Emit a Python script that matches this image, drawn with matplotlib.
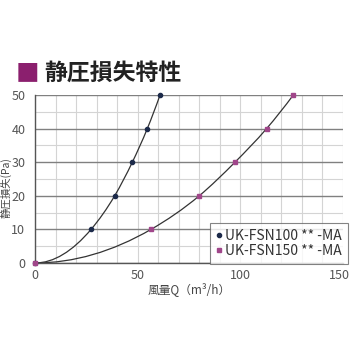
import matplotlib
matplotlib.use("Agg")
import matplotlib.pyplot as plt
import matplotlib.transforms as mtransforms
from matplotlib.path import Path
from matplotlib.patches import PathPatch

plt.rcParams['font.family'] = ['Noto Sans CJK JP', 'DejaVu Sans']

# --- data ---
pressure = [0, 10, 20, 30, 40, 50]
q_fsn100 = [0, 27.3, 38.8, 47.4, 54.7, 60.9]
q_fsn150 = [0, 56.5, 80.0, 97.4, 112.8, 125.8]
labels = ['UK-FSN100 ** -MA', 'UK-FSN150 ** -MA']

line_col = '#333333'
col100 = '#1c2a4a'
col150 = '#a0468a'


def smooth_path(xs, ys):
    # smooth line through the points (hermite in x, flat at the origin)
    n = len(xs)
    h = [xs[i + 1] - xs[i] for i in range(n - 1)]
    s = [(ys[i + 1] - ys[i]) / h[i] for i in range(n - 1)]
    d = [0.0]
    for i in range(1, n - 1):
        d.append((h[i - 1] * s[i] + h[i] * s[i - 1]) / (h[i - 1] + h[i]))
    d.append(((2 * h[-1] + h[-2]) * s[-1] - h[-1] * s[-2]) / (h[-2] + h[-1]))
    verts = [(xs[0], ys[0])]
    codes = [Path.MOVETO]
    for i in range(n - 1):
        verts += [(xs[i] + h[i] / 3, ys[i] + d[i] * h[i] / 3),
                  (xs[i + 1] - h[i] / 3, ys[i + 1] - d[i + 1] * h[i] / 3),
                  (xs[i + 1], ys[i + 1])]
        codes += [Path.CURVE4] * 3
    return Path(verts, codes)


fig = plt.figure(figsize=(3.5, 3.5), dpi=100)
ax = fig.add_axes([0.1, 0.2486, 0.88, 0.48])

ax.set_xlim(0, 150)
ax.set_ylim(0, 50)
ax.set_xticks([0, 50, 100, 150])
ax.set_yticks([0, 10, 20, 30, 40, 50])
ax.set_xticks(range(0, 151, 10), minor=True)
ax.set_yticks(range(0, 51, 5), minor=True)
ax.grid(which='minor', axis='both', color='#d4d4d4', lw=0.8)
ax.grid(which='major', axis='y', color='#808080', lw=1.0)
ax.grid(which='major', axis='x', color='#d4d4d4', lw=0.8)
ax.set_axisbelow(True)
ax.tick_params(which='both', length=0, labelsize=9, labelcolor='#555555')
ax.tick_params(axis='y', pad=7)
ax.tick_params(axis='x', pad=4)
for s in ['top', 'right']:
    ax.spines[s].set_visible(False)
for s in ['left', 'bottom']:
    ax.spines[s].set_color('#555555')
    ax.spines[s].set_linewidth(1.0)

# keep "150" inside the picture
last = ax.get_xticklabels()[-1]
last.set_transform(last.get_transform() + mtransforms.ScaledTranslation(-4 / 100, 0, fig.dpi_scale_trans))

ax.add_patch(PathPatch(smooth_path(q_fsn100, pressure), fill=False, ec=line_col, lw=0.9))
ax.add_patch(PathPatch(smooth_path(q_fsn150, pressure), fill=False, ec=line_col, lw=0.9))
ax.plot(q_fsn100, pressure, ls='none', marker='o', ms=3, color=col100, label=labels[0], clip_on=False, zorder=3)
ax.plot(q_fsn150, pressure, ls='none', marker='s', ms=3.5, color=col150, label=labels[1], clip_on=False, zorder=3)

ax.set_xlabel('風量Q（m³/h）', fontsize=8.5, color='#444444', labelpad=0)
ax.set_ylabel('静圧損失(Pa)', fontsize=7.5, color='#444444')
ax.yaxis.set_label_coords(-0.076, 0.45)

leg = ax.legend(loc='lower right', bbox_to_anchor=(1.016, -0.005), fontsize=10, frameon=True, fancybox=False,
                handlelength=0.3, handletextpad=0.3, borderpad=0.45,
                labelspacing=0.05, borderaxespad=0)
leg.get_frame().set_edgecolor('#666666')
leg.get_frame().set_linewidth(0.8)
for t in leg.get_texts():
    t.set_color('#333333')

fig.text(0.045, 0.79, '■', fontsize=17, color='#8b1f6e', va='center', ha='left')
fig.text(0.127, 0.79, '静圧損失特性', fontsize=16.5, fontweight='bold', color='#222222', va='center', ha='left')

fig.savefig('out.png', dpi=100)
